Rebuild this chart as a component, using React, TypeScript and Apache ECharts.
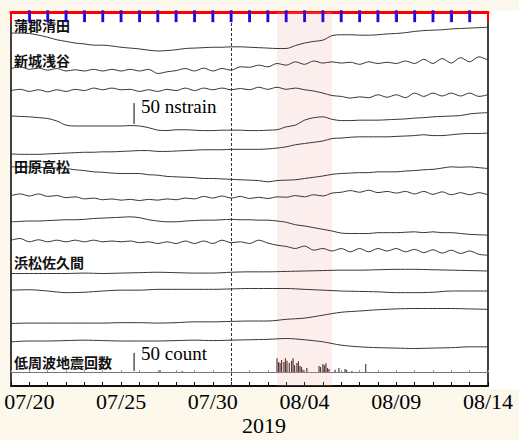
import React, { useEffect, useRef } from "react";
import * as echarts from "echarts";

// ---- time grid ----
const DAY = 86400000;
const T0 = Date.UTC(2019, 6, 19); // 2019-07-19 00:00 UTC
const T_END = Date.UTC(2019, 7, 14);
const X_LABELS = ["07/20", "07/25", "07/30", "08/04", "08/09", "08/14"];
const HALF_DAY_TIMES = Array.from({ length: 53 }, (_, i) => T0 + (i * DAY) / 2);
const DAILY_TIMES = Array.from({ length: 27 }, (_, i) => T0 + i * DAY);

// ---- strain changes (nstrain, relative to start) ----
const GAMAGORI_KIYOTA = [0, 0, -1, -5, -10, -16, -20, -24, -26, -29, -29, -31, -34, -36, -38, -41, -43, -42, -40, -37, -36, -35, -34, -34, -33, -33, -34, -35, -36, -37, -37, -30, -24, -20, -17, -6, -4, -4, -5, -5, -4, -2, -1, 1, 4, 6, 7, 8, 10, 11, 12, 13, 14];
const SHINSHIRO_1 = [0, 4, -2, 1, -4, 0, -6, -3, -6, -2, -6, -2, -6, -2, -6, -2, -12, -8, -5, 0, -6, 1, -6, 0, -4, 4, 3, 8, 4, 12, 8, 16, 10, 18, 13, 16, 13, 15, 10, 16, 12, 15, 12, 18, 12, 22, 12, 24, 13, 26, 16, 28, 20];
const SHINSHIRO_2 = [0, 3, -2, 2, -3, 2, -2, 3, 0, 6, 2, 6, 2, 3, -2, 2, -2, 3, 0, 6, 0, 6, 2, 6, 2, 5, 2, 8, 3, 8, 3, 6, 2, -1, -6, -12, -14, -18, -15, -17, -10, -16, -10, -17, -6, -14, -6, -13, -6, -13, -6, -14, -10];
const SHINSHIRO_3 = [0, -1, -2, -4, -6, -12, -22, -24, -24, -24, -24, -24, -24, -23, -24, -28, -34, -35, -33, -33, -34, -35, -35, -34, -34, -34, -35, -35, -34, -33, -26, -22, -10, -4, -2, -8, -11, -11, -10, -10, -10, -9, -8, -7, -5, -4, -2, -1, 0, 1, 5, 7, 8];
const SHINSHIRO_4 = [0, -1, -1, -1, 0, 1, 2, 3, 4, 4, 5, 5, 6, 7, 8, 8, 6, 6, 7, 8, 9, 10, 10, 10, 11, 11, 11, 11, 12, 14, 17, 22, 25, 28, 31, 37, 38, 40, 41, 41, 41, 41, 42, 43, 44, 46, 44, 44, 46, 48, 49, 49, 50];
const TAHARA_1 = [0, 0, 0, -1, -2, -3, -4, -7, -9, -12, -13, -15, -16, -16, -16, -19, -20, -23, -24, -25, -26, -28, -28, -29, -30, -31, -32, -33, -36, -33, -32, -31, -28, -25, -22, -18, -16, -15, -14, -14, -12, -12, -12, -10, -9, -7, -6, -3, 0, -1, 0, -2, -4];
const TAHARA_2 = [0, 4, -1, 4, -2, 0, -5, -3, -8, -6, -10, -8, -11, -9, -12, -9, -11, -8, -10, -6, -8, -2, -6, -1, -6, -2, -7, -4, -7, -3, -4, 0, -3, 2, -1, 6, 8, 12, 8, 13, 7, 10, 6, 10, 4, 10, 3, 9, 2, 7, 2, 7, 2];
const TAHARA_3 = [0, 1, 2, 2, 3, 4, 5, 5, 6, 8, 9, 10, 11, 12, 10, 5, 2, 0, 0, 2, 3, 4, 4, 5, 6, 5, 5, 4, 4, 2, -1, -7, -10, -14, -18, -22, -27, -28, -28, -28, -26, -26, -26, -25, -24, -26, -24, -26, -26, -28, -30, -31, -32];
const TAHARA_4 = [0, 4, -4, 1, -4, 0, -4, 0, -4, 0, -4, -2, -4, -2, -6, -4, -8, -4, -8, -2, -8, -2, -8, 0, -6, -4, -8, 0, -7, -12, -15, -20, -14, -24, -20, -26, -20, -28, -20, -28, -20, -26, -20, -28, -22, -30, -23, -31, -24, -32, -26, -34, -36];
const HAMAMATSU_1 = [0, 0, 0, 0, 1, 0, 1, 2, 3, 2, 1, 1, 3, 4, 4, 5, 6, 7, 8, 8, 9, 10, 10, 9, 8, 7, 6];
const HAMAMATSU_2 = [0, 1, -2, -6, -5, -2, 0, 0, 2, 2, 2, 2, 3, 4, 4, 4, 2, 0, -2, -3, -4, -6, -6, -5, -2, -2, -2];
const HAMAMATSU_3 = [0, 1, 1, 1, 1, 1, 2, 2, 1, 2, 4, 4, 5, 6, 6, 10, 13, 20, 27, 30, 33, 35, 36, 36, 36, 35, 34];
const HAMAMATSU_4 = [0, 2, 2, 3, 4, 3, 2, 2, 2, 3, 4, 3, 4, 5, 6, 8, 5, 0, -8, -12, -14, -15, -16, -15, -14, -12, -12];

// ---- low-frequency earthquake counts ----
const LFE_TIMES = ["2019-07-27T03", "2019-07-28T08", "2019-08-02T12", "2019-08-02T14", "2019-08-02T16", "2019-08-02T18", "2019-08-02T21", "2019-08-02T23", "2019-08-03T01", "2019-08-03T04", "2019-08-03T07", "2019-08-03T09", "2019-08-03T11", "2019-08-03T14", "2019-08-03T16", "2019-08-03T18", "2019-08-03T20", "2019-08-03T22", "2019-08-04T03", "2019-08-04T19", "2019-08-04T21", "2019-08-05T00", "2019-08-05T02", "2019-08-05T04", "2019-08-05T06", "2019-08-05T08", "2019-08-05T16", "2019-08-05T21", "2019-08-06T05", "2019-08-06T07", "2019-08-06T14", "2019-08-07T08"];
const LFE_COUNTS = [5, 3, 38, 28, 25, 33, 28, 38, 31, 25, 31, 38, 19, 25, 30, 17, 14, 6, 11, 17, 14, 22, 19, 24, 11, 8, 6, 11, 8, 6, 3, 22];

// ---- station labels ----
const STATIONS = ["蒲郡清田", "新城浅谷", "田原高松", "浜松佐久間", "低周波地震回数"];

// layout: trace stacking baselines (nstrain on the stacked axis)
const TRACES = [
  { data: GAMAGORI_KIYOTA, times: HALF_DAY_TIMES, base: 847 },
  { data: SHINSHIRO_1, times: HALF_DAY_TIMES, base: 762 },
  { data: SHINSHIRO_2, times: HALF_DAY_TIMES, base: 709 },
  { data: SHINSHIRO_3, times: HALF_DAY_TIMES, base: 648 },
  { data: SHINSHIRO_4, times: HALF_DAY_TIMES, base: 557 },
  { data: TAHARA_1, times: HALF_DAY_TIMES, base: 526 },
  { data: TAHARA_2, times: HALF_DAY_TIMES, base: 457 },
  { data: TAHARA_3, times: HALF_DAY_TIMES, base: 394 },
  { data: TAHARA_4, times: HALF_DAY_TIMES, base: 350 },
  { data: HAMAMATSU_1, times: DAILY_TIMES, base: 270 },
  { data: HAMAMATSU_2, times: DAILY_TIMES, base: 230 },
  { data: HAMAMATSU_3, times: DAILY_TIMES, base: 150 },
  { data: HAMAMATSU_4, times: DAILY_TIMES, base: 106 },
];
const LABEL_Y = [25, 60, 166, 262, 362];
const Y_MAX = 897.6;

const SCALE_T = Date.UTC(2019, 6, 25, 17);
const SERIF = '"Liberation Serif", "Times New Roman", serif';
const CJK = '"Noto Sans CJK JP", sans-serif';

function pad(n: number) {
  return n < 10 ? "0" + n : "" + n;
}

export default function App() {
  const ref = useRef<HTMLDivElement>(null);
  useEffect(() => {
    const chart = echarts.init(ref.current!, null, { renderer: "svg" });
    const fmt = (v: number) => {
      const d = new Date(v);
      const k = pad(d.getUTCMonth() + 1) + "/" + pad(d.getUTCDate());
      return X_LABELS.includes(k) ? k : "";
    };
    const xBase = {
      type: "value" as const,
      min: T0,
      max: T_END,
      interval: DAY,
      splitLine: { show: false },
    };
    const series: any[] = TRACES.map((tr, idx) => ({
      type: "line",
      xAxisIndex: 0,
      yAxisIndex: 0,
      showSymbol: false,
      smooth: 0.3,
      silent: true,
      lineStyle: { color: "#3a3434", width: 1 },
      data: tr.times.map((t, i) => [t, tr.base + tr.data[i]]),
      ...(idx === 0
        ? {
            markArea: {
              silent: true,
              itemStyle: { color: "rgba(245,170,170,0.2)" },
              data: [[{ xAxis: Date.UTC(2019, 7, 2, 12) }, { xAxis: Date.UTC(2019, 7, 5, 12) }]],
            },
            markLine: {
              silent: true,
              symbol: "none",
              label: { show: false },
              lineStyle: { color: "#333", type: [3, 2], width: 1 },
              data: [{ xAxis: Date.UTC(2019, 6, 31) }],
            },
          }
        : {}),
    }));
    series.push({
      type: "scatter",
      xAxisIndex: 0,
      yAxisIndex: 0,
      silent: true,
      clip: false,
      symbol: "rect",
      symbolSize: [3, 12],
      itemStyle: { color: "blue" },
      z: 20,
      data: DAILY_TIMES.slice(1, 26).map((t) => [t, Y_MAX - 10]),
    });
    series.push({
      type: "line",
      xAxisIndex: 0,
      yAxisIndex: 0,
      showSymbol: false,
      silent: true,
      lineStyle: { color: "#000", width: 1 },
      data: [
        [SCALE_T, 629],
        [SCALE_T, 679],
      ],
    });
    series.push({
      type: "bar",
      xAxisIndex: 2,
      yAxisIndex: 1,
      barWidth: 1.2,
      silent: true,
      itemStyle: { color: "#5b3c37" },
      data: LFE_TIMES.map((s, i) => [Date.parse(s + ":00:00Z"), LFE_COUNTS[i]]),
    });
    series.push({
      type: "line",
      xAxisIndex: 2,
      yAxisIndex: 1,
      showSymbol: false,
      silent: true,
      lineStyle: { color: "#000", width: 1 },
      data: [
        [SCALE_T, 3],
        [SCALE_T, 53],
      ],
    });

    chart.setOption({
      animation: false,
      backgroundColor: "transparent",
      grid: [
        { left: 11, right: 31, top: 12, bottom: 54, show: true, backgroundColor: "#fff", borderColor: "#000", borderWidth: 1.5 },
        { left: 11, right: 31, bottom: 68, height: 72 },
      ],
      xAxis: [
        {
          ...xBase,
          gridIndex: 0,
          position: "bottom",
          axisLine: { show: true, onZero: false, lineStyle: { color: "#000", width: 1.5 } },
          axisTick: { show: true, inside: true, length: 4, lineStyle: { color: "#000", width: 1 } },
          axisLabel: { show: true, formatter: fmt, fontFamily: SERIF, fontSize: 22, color: "#000", margin: 4, showMinLabel: true, showMaxLabel: true },
        },
        {
          ...xBase,
          gridIndex: 0,
          position: "top",
          axisLine: { show: true, onZero: false, lineStyle: { color: "red", width: 3 } },
          axisTick: { show: true, inside: true, length: 10, lineStyle: { color: "red", width: 2 } },
          axisLabel: { show: false },
        },
        {
          ...xBase,
          gridIndex: 1,
          position: "bottom",
          axisLine: { show: true, onZero: false, lineStyle: { color: "#777", width: 1 } },
          axisTick: { show: true, inside: true, length: 2, lineStyle: { color: "#999", width: 1 } },
          axisLabel: { show: false },
        },
      ],
      yAxis: [
        { type: "value", gridIndex: 0, min: 0, max: Y_MAX, show: false },
        { type: "value", gridIndex: 1, min: 0, max: 200, show: false },
      ],
      graphic: [
        { type: "rect", shape: { x: 489, y: 11, width: 30, height: 378 }, style: { fill: "#fff" }, silent: true },
        ...STATIONS.map((s, i) => ({
          type: "text",
          x: 14,
          y: LABEL_Y[i],
          style: { text: s, fill: "#111", font: `bold 14px ${CJK}`, textVerticalAlign: "middle", textAlign: "left" },
          z: 10,
        })),
        { type: "text", x: 141, y: 106, style: { text: "50 nstrain", fill: "#000", font: `19px ${SERIF}`, textVerticalAlign: "middle" }, z: 10 },
        { type: "text", x: 141, y: 353, style: { text: "50 count", fill: "#000", font: `19px ${SERIF}`, textVerticalAlign: "middle" }, z: 10 },
        { type: "text", x: 264, y: 425, style: { text: "2019", fill: "#000", font: `22px ${SERIF}`, textVerticalAlign: "middle", textAlign: "center" }, z: 10 },
      ],
      series,
    });
    return () => chart.dispose();
  }, []);
  return (
    <div style={{ position: "fixed", left: 0, top: 0, width: 519, height: 440, background: "#fdf8ec" }}>
      <div ref={ref} style={{ width: 519, height: 440 }} />
    </div>
  );
}
